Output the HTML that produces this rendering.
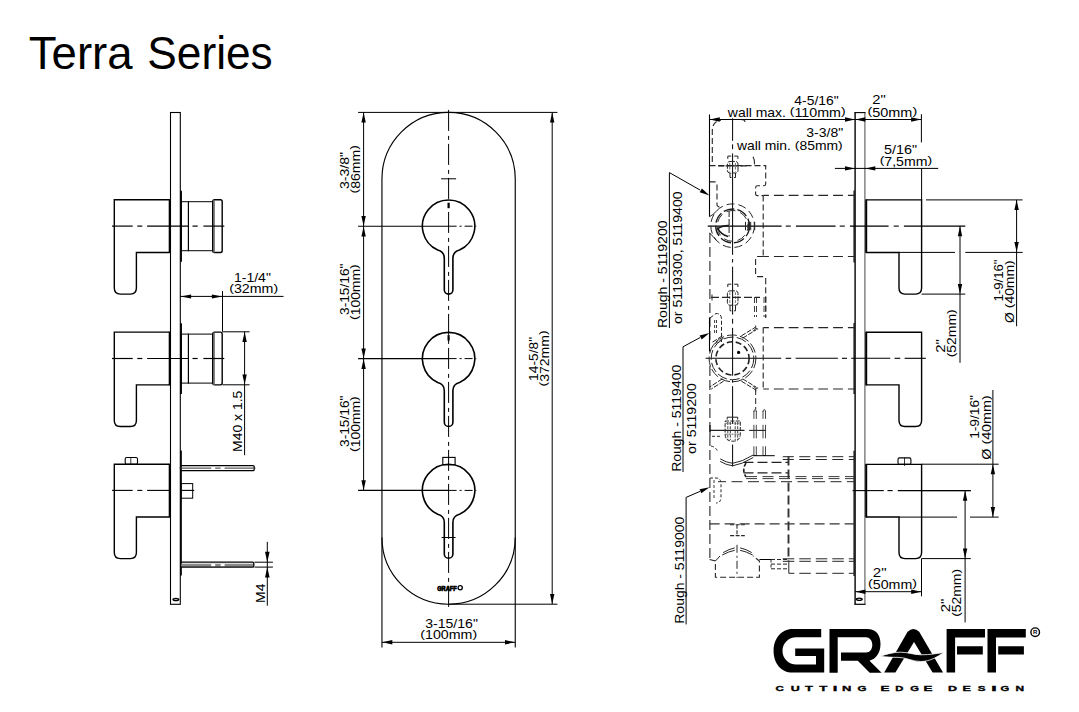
<!DOCTYPE html>
<html><head><meta charset="utf-8"><style>
html,body{margin:0;padding:0;background:#fff;width:1079px;height:712px;overflow:hidden}
svg{display:block}
text{font-family:"Liberation Sans",sans-serif;white-space:pre}
</style></head><body>
<svg width="1079" height="712" viewBox="0 0 1079 712">
<rect width="1079" height="712" fill="#fff"/>
<text x="28.82" y="68.7" font-size="46.5" font-weight="normal" fill="#000" textLength="103.78" lengthAdjust="spacingAndGlyphs">Terra</text>
<text x="147.29" y="68.7" font-size="46.5" font-weight="normal" fill="#000" textLength="125.41" lengthAdjust="spacingAndGlyphs">Series</text>
<rect x="170.5" y="112.5" width="9.8" height="491.8" rx="0" stroke="#000" stroke-width="1.1" fill="none"/>
<ellipse cx="175.9" cy="599.4" rx="2.9" ry="1.1" stroke="#000" stroke-width="1.3" fill="none"/>
<path d="M169.6,199.7 L114.3,199.7 L114.3,288.1 Q114.3,294.1 120.3,294.1 L130.4,294.1 Q136.4,294.1 136.4,288.1 L136.4,252.5 L169.6,252.5" stroke="#000" stroke-width="1.4" fill="none"/>
<line x1="169.7" y1="199.2" x2="169.7" y2="253" stroke="#000" stroke-width="2.0" stroke-linecap="butt"/>
<line x1="181.1" y1="190.8" x2="181.1" y2="261.7" stroke="#000" stroke-width="1.7" stroke-linecap="butt"/>
<rect x="181.2" y="201.7" width="7.2" height="49" rx="0" stroke="#000" stroke-width="1.0" fill="none"/>
<rect x="188.4" y="201.7" width="24.2" height="49" rx="0" stroke="#000" stroke-width="1.0" fill="none"/>
<rect x="212.8" y="199.7" width="9.4" height="52.8" rx="1.8" stroke="#000" stroke-width="1.4" fill="none"/>
<line x1="214" y1="200.1" x2="214" y2="252.5" stroke="#666" stroke-width="1.6" stroke-linecap="butt"/>
<line x1="112" y1="226.1" x2="132.7" y2="226.1" stroke="#000" stroke-width="1.2" stroke-linecap="butt"/>
<line x1="137.3" y1="226.1" x2="142.3" y2="226.1" stroke="#000" stroke-width="1.2" stroke-linecap="butt"/>
<line x1="147.1" y1="226.1" x2="189" y2="226.1" stroke="#000" stroke-width="1.2" stroke-linecap="butt"/>
<line x1="192.5" y1="226.1" x2="197.7" y2="226.1" stroke="#000" stroke-width="1.2" stroke-linecap="butt"/>
<line x1="203.4" y1="226.1" x2="224.3" y2="226.1" stroke="#000" stroke-width="1.2" stroke-linecap="butt"/>
<path d="M169.6,332.1 L114.3,332.1 L114.3,420.5 Q114.3,426.5 120.3,426.5 L130.4,426.5 Q136.4,426.5 136.4,420.5 L136.4,384.9 L169.6,384.9" stroke="#000" stroke-width="1.4" fill="none"/>
<line x1="169.7" y1="331.6" x2="169.7" y2="385.4" stroke="#000" stroke-width="2.0" stroke-linecap="butt"/>
<line x1="181.1" y1="323.2" x2="181.1" y2="394.1" stroke="#000" stroke-width="1.7" stroke-linecap="butt"/>
<rect x="181.2" y="334.1" width="7.2" height="49" rx="0" stroke="#000" stroke-width="1.0" fill="none"/>
<rect x="188.4" y="334.1" width="24.2" height="49" rx="0" stroke="#000" stroke-width="1.0" fill="none"/>
<rect x="212.8" y="332.1" width="9.4" height="52.8" rx="1.8" stroke="#000" stroke-width="1.4" fill="none"/>
<line x1="214" y1="332.5" x2="214" y2="384.9" stroke="#666" stroke-width="1.6" stroke-linecap="butt"/>
<line x1="112" y1="358.5" x2="132.7" y2="358.5" stroke="#000" stroke-width="1.2" stroke-linecap="butt"/>
<line x1="137.3" y1="358.5" x2="142.3" y2="358.5" stroke="#000" stroke-width="1.2" stroke-linecap="butt"/>
<line x1="147.1" y1="358.5" x2="189" y2="358.5" stroke="#000" stroke-width="1.2" stroke-linecap="butt"/>
<line x1="192.5" y1="358.5" x2="197.7" y2="358.5" stroke="#000" stroke-width="1.2" stroke-linecap="butt"/>
<line x1="203.4" y1="358.5" x2="224.3" y2="358.5" stroke="#000" stroke-width="1.2" stroke-linecap="butt"/>
<path d="M169.6,464.2 L114.3,464.2 L114.3,552.6 Q114.3,558.6 120.3,558.6 L130.4,558.6 Q136.4,558.6 136.4,552.6 L136.4,517 L169.6,517" stroke="#000" stroke-width="1.4" fill="none"/>
<line x1="169.7" y1="463.7" x2="169.7" y2="517.5" stroke="#000" stroke-width="2.0" stroke-linecap="butt"/>
<rect x="125.2" y="457.5" width="12.3" height="6.7" rx="1.5" stroke="#000" stroke-width="1.1" fill="none"/>
<line x1="130.8" y1="457.5" x2="130.8" y2="464.2" stroke="#000" stroke-width="0.8" stroke-linecap="butt"/>
<line x1="112" y1="490.4" x2="132.7" y2="490.4" stroke="#000" stroke-width="1.1" stroke-linecap="butt"/>
<line x1="137.3" y1="490.4" x2="142.3" y2="490.4" stroke="#000" stroke-width="1.1" stroke-linecap="butt"/>
<line x1="147.1" y1="490.4" x2="169.5" y2="490.4" stroke="#000" stroke-width="1.1" stroke-linecap="butt"/>
<line x1="181" y1="490.4" x2="194.2" y2="490.4" stroke="#000" stroke-width="1.1" stroke-linecap="butt"/>
<line x1="181" y1="450.5" x2="181" y2="575.5" stroke="#000" stroke-width="1.7" stroke-linecap="butt"/>
<path d="M181.2,465.6 L253,465.6 Q254.2,465.6 254.2,466.8 L254.2,469.4 Q254.2,470.6 253,470.6 L181.2,470.6" stroke="#000" stroke-width="1.3" fill="none"/>
<line x1="179.6" y1="468.1" x2="211.2" y2="468.1" stroke="#333" stroke-width="1.0" stroke-linecap="butt"/>
<line x1="215.2" y1="468.1" x2="220.7" y2="468.1" stroke="#333" stroke-width="1.0" stroke-linecap="butt"/>
<line x1="224.6" y1="468.1" x2="255.5" y2="468.1" stroke="#333" stroke-width="1.0" stroke-linecap="butt"/>
<rect x="181.2" y="563.7" width="71.8" height="3.1" rx="0" stroke="#000" stroke-width="0" fill="#8a8a8a"/>
<rect x="211.2" y="563.9" width="4" height="2.7" rx="0" stroke="#000" stroke-width="0" fill="#fff"/>
<rect x="220.7" y="563.9" width="3.9" height="2.7" rx="0" stroke="#000" stroke-width="0" fill="#fff"/>
<path d="M181.2,562.1 L252.6,562.1 Q253.8,562.1 253.8,563.3 L253.8,566 Q253.8,567.2 252.6,567.2 L181.2,567.2" stroke="#000" stroke-width="1.3" fill="none"/>
<rect x="181" y="483.6" width="11.7" height="14.6" rx="0" stroke="#000" stroke-width="1.0" fill="none"/>
<line x1="180.3" y1="296.4" x2="283.5" y2="296.4" stroke="#000" stroke-width="1.0" stroke-linecap="butt"/>
<polygon points="180.6,296.4 191.1,294.4 191.1,298.4" fill="#000"/>
<polygon points="222.4,296.4 211.9,294.4 211.9,298.4" fill="#000"/>
<line x1="222.5" y1="291" x2="222.5" y2="331.7" stroke="#000" stroke-width="1.0" stroke-linecap="butt"/>
<text x="233.93" y="281.6" font-size="13.3" font-weight="normal" fill="#000" textLength="36.96" lengthAdjust="spacingAndGlyphs">1-1/4"</text>
<g transform="translate(229.22,293.2)"><text transform="translate(0,-1.63) scale(1.0688,0.8112)" font-size="13.3" font-weight="normal" fill="#000">(</text><text x="4.73" y="0" font-size="13.3" font-weight="normal" fill="#000" textLength="39.5" lengthAdjust="spacingAndGlyphs">32mm</text><text transform="translate(44.23,-1.63) scale(1.0688,0.8112)" font-size="13.3" font-weight="normal" fill="#000">)</text></g>
<line x1="222.5" y1="331.8" x2="249.6" y2="331.8" stroke="#000" stroke-width="1.0" stroke-linecap="butt"/>
<line x1="222.5" y1="384.8" x2="249.6" y2="384.8" stroke="#000" stroke-width="1.0" stroke-linecap="butt"/>
<line x1="244.6" y1="331.8" x2="244.6" y2="455.2" stroke="#000" stroke-width="1.0" stroke-linecap="butt"/>
<polygon points="244.6,332.1 242.4,342.1 246.8,342.1" fill="#000"/>
<polygon points="244.6,384.5 242.4,374.5 246.8,374.5" fill="#000"/>
<g transform="translate(241.8,451.94) rotate(-90)"><text x="0" y="0" font-size="13.3" font-weight="normal" fill="#000" textLength="61.23" lengthAdjust="spacingAndGlyphs">M40 x 1.5</text></g>
<line x1="254.5" y1="562.2" x2="272.9" y2="562.2" stroke="#000" stroke-width="1.0" stroke-linecap="butt"/>
<line x1="254.5" y1="567.1" x2="272.9" y2="567.1" stroke="#000" stroke-width="1.0" stroke-linecap="butt"/>
<line x1="267.3" y1="541.8" x2="267.3" y2="605.7" stroke="#000" stroke-width="1.0" stroke-linecap="butt"/>
<polygon points="267.3,562.2 265,551.8 269.6,551.8" fill="#000"/>
<polygon points="267.3,567.1 265,577.5 269.6,577.5" fill="#000"/>
<g transform="translate(265,602.94) rotate(-90)"><text x="0" y="0" font-size="13.3" font-weight="normal" fill="#000" textLength="19.35" lengthAdjust="spacingAndGlyphs">M4</text></g>
<path d="M381.95,179.05 A66.65,66.65 0 0 1 515.25,179.05 L515.25,537.55 A66.65,66.65 0 0 1 381.95,537.55 Z" stroke="#000" stroke-width="1.15" fill="none"/>
<line x1="448.6" y1="109.9" x2="448.6" y2="609" stroke="#000" stroke-width="1.0" stroke-dasharray="21,5,4,4" stroke-linecap="butt"/>
<line x1="441.1" y1="178.8" x2="456.1" y2="178.8" stroke="#000" stroke-width="1.0" stroke-linecap="butt"/>
<path d="M444.3,258.2 C444.3,253.2 441.6,251.02 437.7,250.02 A26.2,26.2 0 1 1 459.5,250.02 C455.6,251.02 452.9,253.2 452.9,258.2 L452.9,289.8 A4.3,4.3 0 0 1 444.3,289.8 Z" stroke="#000" stroke-width="1.6" fill="none"/>
<line x1="358.1" y1="226.2" x2="448.6" y2="226.2" stroke="#000" stroke-width="1.1" stroke-linecap="butt"/>
<line x1="448.6" y1="226.2" x2="476.3" y2="226.2" stroke="#000" stroke-width="1.0" stroke-dasharray="8,3,2,3" stroke-linecap="butt"/>
<line x1="448.6" y1="202.7" x2="448.6" y2="208.2" stroke="#000" stroke-width="2.2" stroke-linecap="butt"/>
<path d="M444.3,390.6 C444.3,385.6 441.6,383.42 437.7,382.42 A26.2,26.2 0 1 1 459.5,382.42 C455.6,383.42 452.9,385.6 452.9,390.6 L452.9,422.2 A4.3,4.3 0 0 1 444.3,422.2 Z" stroke="#000" stroke-width="1.6" fill="none"/>
<line x1="358.1" y1="358.6" x2="448.6" y2="358.6" stroke="#000" stroke-width="1.1" stroke-linecap="butt"/>
<line x1="448.6" y1="358.6" x2="476.3" y2="358.6" stroke="#000" stroke-width="1.0" stroke-dasharray="8,3,2,3" stroke-linecap="butt"/>
<line x1="448.6" y1="335.1" x2="448.6" y2="340.6" stroke="#000" stroke-width="2.2" stroke-linecap="butt"/>
<path d="M444.3,522.4 C444.3,517.4 441.6,515.22 437.7,514.22 A26.2,26.2 0 1 1 459.5,514.22 C455.6,515.22 452.9,517.4 452.9,522.4 L452.9,554 A4.3,4.3 0 0 1 444.3,554 Z" stroke="#000" stroke-width="1.6" fill="none"/>
<line x1="358.1" y1="490.4" x2="448.6" y2="490.4" stroke="#000" stroke-width="1.1" stroke-linecap="butt"/>
<line x1="448.6" y1="490.4" x2="476.3" y2="490.4" stroke="#000" stroke-width="1.0" stroke-dasharray="8,3,2,3" stroke-linecap="butt"/>
<rect x="442.8" y="457.4" width="12.3" height="7.4" rx="0" stroke="#000" stroke-width="1.1" fill="none"/>
<line x1="441.6" y1="537.5" x2="455.6" y2="537.5" stroke="#000" stroke-width="1.0" stroke-linecap="butt"/>
<line x1="363.6" y1="112.4" x2="363.6" y2="490.4" stroke="#000" stroke-width="1.0" stroke-linecap="butt"/>
<line x1="358.1" y1="112.4" x2="557.4" y2="112.4" stroke="#000" stroke-width="1.0" stroke-linecap="butt"/>
<polygon points="363.6,112.6 361.4,122.6 365.8,122.6" fill="#000"/>
<polygon points="363.6,226 361.4,216 365.8,216" fill="#000"/>
<polygon points="363.6,226.5 361.4,236.5 365.8,236.5" fill="#000"/>
<polygon points="363.6,358.4 361.4,348.4 365.8,348.4" fill="#000"/>
<polygon points="363.6,358.9 361.4,368.9 365.8,368.9" fill="#000"/>
<polygon points="363.6,490.2 361.4,480.2 365.8,480.2" fill="#000"/>
<line x1="552.2" y1="112.4" x2="552.2" y2="604.2" stroke="#000" stroke-width="1.0" stroke-linecap="butt"/>
<line x1="448.6" y1="604.2" x2="557.4" y2="604.2" stroke="#000" stroke-width="1.0" stroke-linecap="butt"/>
<polygon points="552.2,112.6 550,122.6 554.4,122.6" fill="#000"/>
<polygon points="552.2,604 550,594 554.4,594" fill="#000"/>
<line x1="381.95" y1="537.5" x2="381.95" y2="647.5" stroke="#000" stroke-width="1.1" stroke-linecap="butt"/>
<line x1="515.25" y1="537.5" x2="515.25" y2="647.5" stroke="#000" stroke-width="1.1" stroke-linecap="butt"/>
<line x1="382" y1="642.3" x2="515.3" y2="642.3" stroke="#000" stroke-width="1.0" stroke-linecap="butt"/>
<polygon points="382.3,642.3 392.3,640.1 392.3,644.5" fill="#000"/>
<polygon points="515,642.3 505,640.1 505,644.5" fill="#000"/>
<text x="425.16" y="627.9" font-size="13.3" font-weight="normal" fill="#000" textLength="52.73" lengthAdjust="spacingAndGlyphs">3-15/16"</text>
<g transform="translate(420.32,639.4)"><text transform="translate(0,-1.63) scale(1.0687,0.8112)" font-size="13.3" font-weight="normal" fill="#000">(</text><text x="4.73" y="0" font-size="13.3" font-weight="normal" fill="#000" textLength="47.4" lengthAdjust="spacingAndGlyphs">100mm</text><text transform="translate(52.13,-1.63) scale(1.0687,0.8112)" font-size="13.3" font-weight="normal" fill="#000">)</text></g>
<g transform="translate(349,188.93) rotate(-90)"><text x="0" y="0" font-size="13.3" font-weight="normal" fill="#000" textLength="36.93" lengthAdjust="spacingAndGlyphs">3-3/8"</text></g>
<g transform="translate(359.6,193.47) rotate(-90)"><text transform="translate(0,-1.63) scale(1.0575,0.8112)" font-size="13.3" font-weight="normal" fill="#000">(</text><text x="4.68" y="0" font-size="13.3" font-weight="normal" fill="#000" textLength="39.08" lengthAdjust="spacingAndGlyphs">86mm</text><text transform="translate(43.76,-1.63) scale(1.0575,0.8112)" font-size="13.3" font-weight="normal" fill="#000">)</text></g>
<g transform="translate(349.3,314.92) rotate(-90)"><text x="0" y="0" font-size="13.3" font-weight="normal" fill="#000" textLength="51.3" lengthAdjust="spacingAndGlyphs">3-15/16"</text></g>
<g transform="translate(359.6,319.96) rotate(-90)"><text transform="translate(0,-1.63) scale(1.0454,0.8112)" font-size="13.3" font-weight="normal" fill="#000">(</text><text x="4.63" y="0" font-size="13.3" font-weight="normal" fill="#000" textLength="46.36" lengthAdjust="spacingAndGlyphs">100mm</text><text transform="translate(50.99,-1.63) scale(1.0454,0.8112)" font-size="13.3" font-weight="normal" fill="#000">)</text></g>
<g transform="translate(349.3,446.92) rotate(-90)"><text x="0" y="0" font-size="13.3" font-weight="normal" fill="#000" textLength="51.3" lengthAdjust="spacingAndGlyphs">3-15/16"</text></g>
<g transform="translate(359.6,451.96) rotate(-90)"><text transform="translate(0,-1.63) scale(1.0454,0.8112)" font-size="13.3" font-weight="normal" fill="#000">(</text><text x="4.63" y="0" font-size="13.3" font-weight="normal" fill="#000" textLength="46.36" lengthAdjust="spacingAndGlyphs">100mm</text><text transform="translate(50.99,-1.63) scale(1.0454,0.8112)" font-size="13.3" font-weight="normal" fill="#000">)</text></g>
<g transform="translate(538.3,380.95) rotate(-90)"><text x="0" y="0" font-size="13.3" font-weight="normal" fill="#000" textLength="44.14" lengthAdjust="spacingAndGlyphs">14-5/8"</text></g>
<g transform="translate(548.6,386.47) rotate(-90)"><text transform="translate(0,-1.63) scale(1.0551,0.8112)" font-size="13.3" font-weight="normal" fill="#000">(</text><text x="4.67" y="0" font-size="13.3" font-weight="normal" fill="#000" textLength="46.79" lengthAdjust="spacingAndGlyphs">372mm</text><text transform="translate(51.47,-1.63) scale(1.0551,0.8112)" font-size="13.3" font-weight="normal" fill="#000">)</text></g>
<g stroke="#000" stroke-width="0.7">
<text x="437.17" y="591.4" font-size="6.8" font-weight="bold" fill="#000" textLength="19.54" lengthAdjust="spacingAndGlyphs">GRAFF</text>
</g>
<circle cx="460.2" cy="587.8" r="2.1" stroke="#000" stroke-width="1.3" fill="none"/>
<line x1="855.1" y1="112.6" x2="855.1" y2="604.3" stroke="#000" stroke-width="1.4" stroke-linecap="butt"/>
<line x1="864.9" y1="112.6" x2="864.9" y2="604.3" stroke="#666" stroke-width="1.2" stroke-linecap="butt"/>
<line x1="854.4" y1="112.6" x2="865.6" y2="112.6" stroke="#000" stroke-width="1.1" stroke-linecap="butt"/>
<line x1="854.4" y1="604.3" x2="865.6" y2="604.3" stroke="#000" stroke-width="1.2" stroke-linecap="butt"/>
<ellipse cx="859.3" cy="599.3" rx="2.9" ry="1.1" stroke="#000" stroke-width="1.3" fill="none"/>
<line x1="854.2" y1="190.6" x2="854.2" y2="262.5" stroke="#222" stroke-width="1.6" stroke-linecap="butt"/>
<line x1="854.2" y1="323" x2="854.2" y2="394" stroke="#222" stroke-width="1.6" stroke-linecap="butt"/>
<line x1="854.2" y1="450.7" x2="854.2" y2="576" stroke="#222" stroke-width="1.6" stroke-linecap="butt"/>
<path d="M866,199.9 L921.6,199.9 L921.6,288.1 Q921.6,294.1 915.6,294.1 L905,294.1 Q899,294.1 899,288.1 L899,252.5 L866,252.5" stroke="#000" stroke-width="1.4" fill="none"/>
<line x1="866.2" y1="199.4" x2="866.2" y2="253" stroke="#000" stroke-width="2.0" stroke-linecap="butt"/>
<path d="M866,332.3 L921.6,332.3 L921.6,420.5 Q921.6,426.5 915.6,426.5 L905,426.5 Q899,426.5 899,420.5 L899,384.9 L866,384.9" stroke="#000" stroke-width="1.4" fill="none"/>
<line x1="866.2" y1="331.8" x2="866.2" y2="385.4" stroke="#000" stroke-width="2.0" stroke-linecap="butt"/>
<path d="M866,464.4 L921.6,464.4 L921.6,552.6 Q921.6,558.6 915.6,558.6 L905,558.6 Q899,558.6 899,552.6 L899,517 L866,517" stroke="#000" stroke-width="1.4" fill="none"/>
<line x1="866.2" y1="463.9" x2="866.2" y2="517.5" stroke="#000" stroke-width="2.0" stroke-linecap="butt"/>
<rect x="898" y="457.9" width="12.9" height="6.5" rx="1.5" stroke="#000" stroke-width="1.1" fill="none"/>
<line x1="904.5" y1="457.9" x2="904.5" y2="465.9" stroke="#000" stroke-width="0.8" stroke-linecap="butt"/>
<line x1="707.7" y1="226.1" x2="781.6" y2="226.1" stroke="#000" stroke-width="1.1" stroke-linecap="butt"/>
<line x1="785.7" y1="226.1" x2="790.8" y2="226.1" stroke="#000" stroke-width="1.1" stroke-linecap="butt"/>
<line x1="795.9" y1="226.1" x2="835.6" y2="226.1" stroke="#000" stroke-width="1.1" stroke-linecap="butt"/>
<line x1="839.7" y1="226.1" x2="844.8" y2="226.1" stroke="#000" stroke-width="1.1" stroke-linecap="butt"/>
<line x1="849.9" y1="226.1" x2="888.6" y2="226.1" stroke="#000" stroke-width="1.1" stroke-linecap="butt"/>
<line x1="893.7" y1="226.1" x2="898.8" y2="226.1" stroke="#000" stroke-width="1.1" stroke-linecap="butt"/>
<line x1="903.9" y1="226.1" x2="965.3" y2="226.1" stroke="#000" stroke-width="1.1" stroke-linecap="butt"/>
<line x1="705.6" y1="358.3" x2="781.2" y2="358.3" stroke="#000" stroke-width="1.1" stroke-linecap="butt"/>
<line x1="785.6" y1="358.3" x2="791.2" y2="358.3" stroke="#000" stroke-width="1.1" stroke-linecap="butt"/>
<line x1="795.6" y1="358.3" x2="837.9" y2="358.3" stroke="#000" stroke-width="1.1" stroke-linecap="butt"/>
<line x1="842" y1="358.3" x2="847" y2="358.3" stroke="#000" stroke-width="1.1" stroke-linecap="butt"/>
<line x1="851.2" y1="358.3" x2="890.2" y2="358.3" stroke="#000" stroke-width="1.1" stroke-linecap="butt"/>
<line x1="894.6" y1="358.3" x2="900.2" y2="358.3" stroke="#000" stroke-width="1.1" stroke-linecap="butt"/>
<line x1="904.6" y1="358.3" x2="925.8" y2="358.3" stroke="#000" stroke-width="1.1" stroke-linecap="butt"/>
<line x1="852.6" y1="490.6" x2="883.8" y2="490.6" stroke="#000" stroke-width="1.1" stroke-linecap="butt"/>
<line x1="887.5" y1="490.6" x2="892.7" y2="490.6" stroke="#000" stroke-width="1.1" stroke-linecap="butt"/>
<line x1="897.8" y1="490.6" x2="970.8" y2="490.6" stroke="#000" stroke-width="1.1" stroke-linecap="butt"/>
<line x1="732.6" y1="118.3" x2="732.6" y2="140.8" stroke="#000" stroke-width="1.0" stroke-linecap="butt"/>
<line x1="732.6" y1="144.3" x2="732.6" y2="149.2" stroke="#000" stroke-width="1.0" stroke-linecap="butt"/>
<line x1="732.6" y1="153.4" x2="732.6" y2="254.8" stroke="#000" stroke-width="1.0" stroke-linecap="butt"/>
<line x1="732.6" y1="259" x2="732.6" y2="262.5" stroke="#000" stroke-width="1.0" stroke-linecap="butt"/>
<line x1="732.6" y1="266.7" x2="732.6" y2="314.6" stroke="#000" stroke-width="1.0" stroke-linecap="butt"/>
<line x1="732.6" y1="318.8" x2="732.6" y2="323.7" stroke="#000" stroke-width="1.0" stroke-linecap="butt"/>
<line x1="732.6" y1="327.9" x2="732.6" y2="375.7" stroke="#000" stroke-width="1.0" stroke-linecap="butt"/>
<line x1="732.6" y1="379.9" x2="732.6" y2="382.7" stroke="#000" stroke-width="1.0" stroke-linecap="butt"/>
<line x1="732.6" y1="386.2" x2="732.6" y2="424" stroke="#000" stroke-width="1.0" stroke-linecap="butt"/>
<line x1="732.6" y1="444.6" x2="732.6" y2="466.4" stroke="#000" stroke-width="1.0" stroke-linecap="butt"/>
<path d="M712.3,162 L712.3,131 Q712.3,121 721,120.2" stroke="#262626" stroke-width="1.1" fill="none" stroke-dasharray="6,3"/>
<path d="M741,119.5 Q745,119.5 745,122" stroke="#262626" stroke-width="1.1" fill="none"/>
<path d="M709.5,165.6 L765.7,165.6 L765.7,184 Q765.7,185.8 763.8,185.8 L757.5,185.8 Q755.6,185.8 755.6,187.7 L755.6,193.9 Q755.6,195.6 757.5,195.6 L763.2,195.6" stroke="#262626" stroke-width="1.1" fill="none" stroke-dasharray="6,3"/>
<path d="M753,156.8 Q755,160 754.5,164.4" stroke="#262626" stroke-width="1.1" fill="none"/>
<line x1="763.2" y1="195.4" x2="854" y2="195.4" stroke="#262626" stroke-width="1.1" stroke-dasharray="9.8,5" stroke-dashoffset="4.1" stroke-linecap="butt"/>
<line x1="763.2" y1="195.4" x2="763.2" y2="256.5" stroke="#262626" stroke-width="1.1" stroke-dasharray="6,3" stroke-linecap="butt"/>
<line x1="763.2" y1="256.5" x2="854" y2="256.5" stroke="#262626" stroke-width="1.1" stroke-dasharray="9.8,5" stroke-dashoffset="4.1" stroke-linecap="butt"/>
<path d="M763.2,256.5 L757.5,256.5 Q755.6,256.5 755.6,258.4 L755.6,274.7 Q755.6,276.6 757.5,276.6 L763.8,276.6 Q765.7,276.6 765.7,278.5 L765.7,318" stroke="#262626" stroke-width="1.1" fill="none" stroke-dasharray="6,3"/>
<line x1="709.5" y1="114.4" x2="709.5" y2="216.7" stroke="#000" stroke-width="1.1" stroke-linecap="butt"/>
<path d="M709.5,216.7 Q713,215 716.5,211" stroke="#262626" stroke-width="1.0" fill="none"/>
<path d="M709.5,233 Q713,236 716.5,240.7" stroke="#262626" stroke-width="1.0" fill="none"/>
<line x1="709.9" y1="233" x2="709.9" y2="340" stroke="#262626" stroke-width="1.1" stroke-dasharray="10,4" stroke-linecap="butt"/>
<line x1="709.5" y1="318" x2="709.5" y2="351.6" stroke="#000" stroke-width="1.1" stroke-linecap="butt"/>
<line x1="709.9" y1="366" x2="709.9" y2="560" stroke="#262626" stroke-width="1.1" stroke-dasharray="10,4" stroke-linecap="butt"/>
<path d="M709.6,181.9 L714.5,181.9 Q717,181.9 717,184.4 L717,205.3 Q718,207.5 722,207.2" stroke="#262626" stroke-width="1.1" fill="none" stroke-dasharray="6,3"/>
<circle cx="732.6" cy="225.7" r="21.8" stroke="#262626" stroke-width="1.0" fill="none" stroke-dasharray="8,4"/>
<circle cx="732.6" cy="225.9" r="16.9" stroke="#1a1a1a" stroke-width="1.3" fill="none" stroke-dasharray="11,3"/>
<circle cx="732.6" cy="225.9" r="15.4" stroke="#333" stroke-width="1.0" fill="none" stroke-dasharray="9,5" stroke-dashoffset="4"/>
<line x1="729.1" y1="211" x2="729.1" y2="236.5" stroke="#222" stroke-width="1.0" stroke-dasharray="6,2" stroke-linecap="butt"/>
<path d="M729.1,225.6 Q722,225.4 717.8,228.6 Q721,234.5 728,236.4" stroke="#1a1a1a" stroke-width="1.6" fill="none"/>
<line x1="745.5" y1="221.9" x2="745.5" y2="230.2" stroke="#222" stroke-width="1.0" stroke-linecap="butt"/>
<line x1="748.3" y1="221.9" x2="748.3" y2="230.2" stroke="#222" stroke-width="1.0" stroke-linecap="butt"/>
<line x1="749.3" y1="221.9" x2="749.3" y2="230.2" stroke="#222" stroke-width="1.0" stroke-linecap="butt"/>
<line x1="750.7" y1="221.9" x2="750.7" y2="230.2" stroke="#222" stroke-width="1.0" stroke-linecap="butt"/>
<line x1="754.7" y1="221.9" x2="754.7" y2="230.2" stroke="#222" stroke-width="1.0" stroke-linecap="butt"/>
<path d="M727.8,158.9 L727.8,156.1 L731.3,156.1 M734.2,156.1 L737.9,156.1 L737.9,158.9" stroke="#222" stroke-width="1.0" fill="none"/>
<rect x="727.4" y="161.45" width="10.6" height="11.56" rx="2.5" stroke="#222" stroke-width="1.0" fill="none" stroke-dasharray="5,1.2"/>
<line x1="729.8" y1="162.95" x2="729.8" y2="171.51" stroke="#444" stroke-width="0.8" stroke-dasharray="2.5,1.5" stroke-linecap="butt"/>
<line x1="735.4" y1="162.95" x2="735.4" y2="171.51" stroke="#444" stroke-width="0.8" stroke-dasharray="2.5,1.5" stroke-linecap="butt"/>
<path d="M730,173.01 L730,177.5 L731.5,177.5 M734,177.5 L735.5,177.5 L735.5,173.01" stroke="#222" stroke-width="1.0" fill="none"/>
<path d="M727.8,287 L727.8,284.2 L731.3,284.2 M734.2,284.2 L737.9,284.2 L737.9,287" stroke="#222" stroke-width="1.0" fill="none"/>
<rect x="727.4" y="290.85" width="10.6" height="14.36" rx="2.5" stroke="#222" stroke-width="1.0" fill="none" stroke-dasharray="5,1.2"/>
<line x1="729.8" y1="292.35" x2="729.8" y2="303.71" stroke="#444" stroke-width="0.8" stroke-dasharray="2.5,1.5" stroke-linecap="butt"/>
<line x1="735.4" y1="292.35" x2="735.4" y2="303.71" stroke="#444" stroke-width="0.8" stroke-dasharray="2.5,1.5" stroke-linecap="butt"/>
<path d="M730,305.21 L730,310.8 L731.5,310.8 M734,310.8 L735.5,310.8 L735.5,305.21" stroke="#222" stroke-width="1.0" fill="none"/>
<line x1="718" y1="165.9" x2="747" y2="165.9" stroke="#222" stroke-width="1.2" stroke-dasharray="6,1.5" stroke-linecap="butt"/>
<line x1="711" y1="297.4" x2="760" y2="297.4" stroke="#262626" stroke-width="1.1" stroke-dasharray="8,3" stroke-linecap="butt"/>
<line x1="712" y1="294.5" x2="712" y2="300.5" stroke="#262626" stroke-width="1.0" stroke-linecap="butt"/>
<line x1="754.5" y1="297" x2="754.5" y2="317" stroke="#262626" stroke-width="0.9" stroke-dasharray="6,3" stroke-linecap="butt"/>
<line x1="756.5" y1="297" x2="756.5" y2="317" stroke="#262626" stroke-width="0.9" stroke-dasharray="6,3" stroke-linecap="butt"/>
<line x1="764" y1="297" x2="764" y2="317" stroke="#262626" stroke-width="0.9" stroke-dasharray="6,3" stroke-linecap="butt"/>
<line x1="765.8" y1="297" x2="765.8" y2="317" stroke="#262626" stroke-width="0.9" stroke-dasharray="6,3" stroke-linecap="butt"/>
<path d="M710,318 L716,313.5 Q721.5,313.5 721.5,319 L721.5,342" stroke="#262626" stroke-width="1.0" fill="none" stroke-dasharray="4,2"/>
<line x1="714.6" y1="320" x2="714.6" y2="335" stroke="#262626" stroke-width="0.9" stroke-dasharray="3,2" stroke-linecap="butt"/>
<line x1="716.5" y1="320" x2="716.5" y2="335" stroke="#262626" stroke-width="0.9" stroke-dasharray="3,2" stroke-linecap="butt"/>
<line x1="763.2" y1="327.6" x2="854" y2="327.6" stroke="#262626" stroke-width="1.1" stroke-dasharray="9.8,5" stroke-dashoffset="4.1" stroke-linecap="butt"/>
<line x1="763.2" y1="327.6" x2="763.2" y2="389" stroke="#262626" stroke-width="1.1" stroke-dasharray="6,3" stroke-linecap="butt"/>
<line x1="763.2" y1="389" x2="854" y2="389" stroke="#262626" stroke-width="1.1" stroke-dasharray="9.8,5" stroke-dashoffset="4.1" stroke-linecap="butt"/>
<circle cx="732.5" cy="358.4" r="16.6" stroke="#222" stroke-width="1.6" fill="none" stroke-dasharray="6,3"/>
<circle cx="732.5" cy="358.4" r="21.3" stroke="#262626" stroke-width="1.0" fill="none" stroke-dasharray="10,3"/>
<circle cx="732.5" cy="358.4" r="23.4" stroke="#262626" stroke-width="1.0" fill="none" stroke-dasharray="10,3"/>
<circle cx="738.6" cy="352.4" r="1.6" fill="#000"/>
<line x1="742.68" y1="338.11" x2="756.38" y2="329.71" stroke="#222" stroke-width="1.0" stroke-dasharray="5,1.5" stroke-linecap="butt"/>
<line x1="741.32" y1="335.89" x2="755.02" y2="327.49" stroke="#222" stroke-width="1.0" stroke-dasharray="5,1.5" stroke-linecap="butt"/>
<line x1="741.32" y1="381.11" x2="755.02" y2="389.51" stroke="#222" stroke-width="1.0" stroke-dasharray="5,1.5" stroke-linecap="butt"/>
<line x1="742.68" y1="378.89" x2="756.38" y2="387.29" stroke="#222" stroke-width="1.0" stroke-dasharray="5,1.5" stroke-linecap="butt"/>
<line x1="722.3" y1="378.91" x2="709.8" y2="386.91" stroke="#222" stroke-width="1.0" stroke-dasharray="5,1.5" stroke-linecap="butt"/>
<line x1="723.7" y1="381.09" x2="711.2" y2="389.09" stroke="#222" stroke-width="1.0" stroke-dasharray="5,1.5" stroke-linecap="butt"/>
<line x1="722.3" y1="335.9" x2="711.3" y2="342.9" stroke="#222" stroke-width="1.0" stroke-dasharray="5,1.5" stroke-linecap="butt"/>
<line x1="723.7" y1="338.1" x2="712.7" y2="345.1" stroke="#222" stroke-width="1.0" stroke-dasharray="5,1.5" stroke-linecap="butt"/>
<path d="M753.2,331.1 L755.7,328.6 L758.2,329.1 M755.7,328.6 L755.7,325.6" stroke="#222" stroke-width="1.0" fill="none"/>
<path d="M753.2,385.9 L755.7,388.4 L758.2,387.9 M755.7,388.4 L755.7,391.4" stroke="#222" stroke-width="1.0" fill="none"/>
<path d="M727.2,419.5 L727.2,417.2 L737.7,417.2 L737.7,419.5" stroke="#222" stroke-width="1.0" fill="none"/>
<path d="M725.1,421 L740.3,421 L740.3,434 Q740.3,441.2 732.7,441.2 Q725.1,441.2 725.1,434 Z" stroke="#222" stroke-width="1.0" fill="none" stroke-dasharray="4,1.3"/>
<line x1="727.8" y1="422" x2="727.8" y2="440" stroke="#333" stroke-width="0.9" stroke-dasharray="3,1.2" stroke-linecap="butt"/>
<line x1="730.3" y1="422" x2="730.3" y2="440" stroke="#333" stroke-width="0.9" stroke-dasharray="3,1.2" stroke-linecap="butt"/>
<line x1="735.2" y1="422" x2="735.2" y2="440" stroke="#333" stroke-width="0.9" stroke-dasharray="3,1.2" stroke-linecap="butt"/>
<line x1="737.7" y1="422" x2="737.7" y2="440" stroke="#333" stroke-width="0.9" stroke-dasharray="3,1.2" stroke-linecap="butt"/>
<line x1="725.5" y1="423.2" x2="740" y2="423.2" stroke="#444" stroke-width="0.8" stroke-dasharray="2,1" stroke-linecap="butt"/>
<line x1="725.5" y1="434.2" x2="740" y2="434.2" stroke="#444" stroke-width="0.8" stroke-dasharray="2,1" stroke-linecap="butt"/>
<line x1="710" y1="430.4" x2="744.5" y2="430.4" stroke="#222" stroke-width="1.1" stroke-linecap="butt"/>
<line x1="749.1" y1="430.4" x2="766" y2="430.4" stroke="#222" stroke-width="1.1" stroke-linecap="butt"/>
<line x1="710" y1="425" x2="710" y2="436" stroke="#000" stroke-width="1.0" stroke-linecap="butt"/>
<line x1="712" y1="436.3" x2="720" y2="436.3" stroke="#262626" stroke-width="1.0" stroke-dasharray="3,2" stroke-linecap="butt"/>
<line x1="753.9" y1="411" x2="753.9" y2="418.9" stroke="#333" stroke-width="0.9" stroke-linecap="butt"/>
<line x1="753.9" y1="424.8" x2="753.9" y2="438.3" stroke="#333" stroke-width="0.9" stroke-linecap="butt"/>
<line x1="753.9" y1="446.3" x2="753.9" y2="455.5" stroke="#333" stroke-width="0.9" stroke-linecap="butt"/>
<line x1="756.3" y1="411" x2="756.3" y2="418.9" stroke="#333" stroke-width="0.9" stroke-linecap="butt"/>
<line x1="756.3" y1="424.8" x2="756.3" y2="438.3" stroke="#333" stroke-width="0.9" stroke-linecap="butt"/>
<line x1="756.3" y1="446.3" x2="756.3" y2="455.5" stroke="#333" stroke-width="0.9" stroke-linecap="butt"/>
<line x1="763" y1="411" x2="763" y2="418.9" stroke="#333" stroke-width="0.9" stroke-linecap="butt"/>
<line x1="763" y1="424.8" x2="763" y2="438.3" stroke="#333" stroke-width="0.9" stroke-linecap="butt"/>
<line x1="763" y1="446.3" x2="763" y2="455.5" stroke="#333" stroke-width="0.9" stroke-linecap="butt"/>
<line x1="765.5" y1="411" x2="765.5" y2="418.9" stroke="#333" stroke-width="0.9" stroke-linecap="butt"/>
<line x1="765.5" y1="424.8" x2="765.5" y2="438.3" stroke="#333" stroke-width="0.9" stroke-linecap="butt"/>
<line x1="765.5" y1="446.3" x2="765.5" y2="455.5" stroke="#333" stroke-width="0.9" stroke-linecap="butt"/>
<path d="M753.9,412 Q753.9,409.5 755.0999999999999,409.5 Q756.3,409.5 756.3,412" stroke="#333" stroke-width="0.9" fill="none"/>
<line x1="753.9" y1="455.5" x2="756.3" y2="455.5" stroke="#333" stroke-width="0.9" stroke-linecap="butt"/>
<path d="M763.0,412 Q763.0,409.5 764.25,409.5 Q765.5,409.5 765.5,412" stroke="#333" stroke-width="0.9" fill="none"/>
<line x1="763" y1="455.5" x2="765.5" y2="455.5" stroke="#333" stroke-width="0.9" stroke-linecap="butt"/>
<line x1="755.7" y1="389" x2="755.7" y2="409.5" stroke="#262626" stroke-width="1.0" stroke-dasharray="6,3" stroke-linecap="butt"/>
<path d="M720.2,458.9 Q726,462.5 732.6,463.3 Q742,462 753.2,455" stroke="#262626" stroke-width="1.0" fill="none"/>
<path d="M720.2,461.4 Q726,465 732.6,465.8 Q742,464.5 753.2,457.5" stroke="#262626" stroke-width="1.0" fill="none"/>
<line x1="753" y1="455.7" x2="774.7" y2="455.7" stroke="#000" stroke-width="1.0" stroke-linecap="butt"/>
<line x1="782.8" y1="456.7" x2="854" y2="456.7" stroke="#262626" stroke-width="1.0" stroke-dasharray="11,5.5" stroke-linecap="butt"/>
<line x1="782.8" y1="459.5" x2="854" y2="459.5" stroke="#262626" stroke-width="1.0" stroke-dasharray="11,5.5" stroke-linecap="butt"/>
<line x1="743.5" y1="462.4" x2="789" y2="462.4" stroke="#222" stroke-width="1.2" stroke-dasharray="10,4" stroke-linecap="butt"/>
<line x1="743.5" y1="472.8" x2="789" y2="472.8" stroke="#222" stroke-width="1.2" stroke-dasharray="10,4" stroke-linecap="butt"/>
<path d="M746,463 Q741.5,470 746,477" stroke="#222" stroke-width="1.6" fill="none" stroke-dasharray="4,2"/>
<line x1="746" y1="476.6" x2="854" y2="476.6" stroke="#262626" stroke-width="0.9" stroke-dasharray="11,5.5" stroke-linecap="butt"/>
<line x1="746" y1="478.6" x2="854" y2="478.6" stroke="#262626" stroke-width="0.9" stroke-dasharray="11,5.5" stroke-linecap="butt"/>
<line x1="718" y1="481.7" x2="854" y2="481.7" stroke="#262626" stroke-width="1.0" stroke-dasharray="11,5.5" stroke-dashoffset="3" stroke-linecap="butt"/>
<line x1="788.5" y1="456.4" x2="788.5" y2="561" stroke="#333" stroke-width="1.9" stroke-dasharray="9,4" stroke-linecap="butt"/>
<path d="M710,478 L716,478 Q721,478 721,484 L721,497 Q721,503 716,503" stroke="#262626" stroke-width="1.0" fill="none" stroke-dasharray="3,2"/>
<line x1="714" y1="480" x2="714" y2="500" stroke="#262626" stroke-width="0.9" stroke-dasharray="3,2" stroke-linecap="butt"/>
<path d="M711,446 Q716,447 718,452" stroke="#262626" stroke-width="1.0" fill="none" stroke-dasharray="3,2"/>
<line x1="709.6" y1="523.8" x2="854" y2="523.8" stroke="#333" stroke-width="1.2" stroke-dasharray="10,5" stroke-linecap="butt"/>
<path d="M730.1,524.8 L744.8,524.8 M737,524.8 L737,535.6 M730.1,535.6 L744.8,535.6" stroke="#262626" stroke-width="1.1" fill="none" stroke-dasharray="4,1.5"/>
<path d="M709.6,559.5 L715.4,561 L715.4,577.3 L759.4,577.3 L759.4,561 L753,556" stroke="#262626" stroke-width="1.1" fill="none" stroke-dasharray="6,3"/>
<path d="M715.4,561 L720,556" stroke="#262626" stroke-width="1.0" fill="none"/>
<path d="M723.2,552.6 Q729,549 734.7,547.9 M740.1,547.9 Q746,549 751.7,552.6" stroke="#262626" stroke-width="1.0" fill="none"/>
<path d="M722.2,555 Q729,551.4 734.7,550.3 M740.1,550.3 Q746,551.4 752.7,555" stroke="#262626" stroke-width="1.0" fill="none"/>
<line x1="737" y1="544.8" x2="737" y2="578" stroke="#262626" stroke-width="1.0" stroke-dasharray="8,3,2,3" stroke-linecap="butt"/>
<line x1="759.4" y1="559.5" x2="771" y2="559.5" stroke="#000" stroke-width="1.0" stroke-linecap="butt"/>
<line x1="771" y1="559.5" x2="789" y2="559.5" stroke="#262626" stroke-width="1.0" stroke-dasharray="4,2" stroke-linecap="butt"/>
<line x1="771" y1="564.1" x2="789" y2="564.1" stroke="#262626" stroke-width="1.0" stroke-dasharray="4,2" stroke-linecap="butt"/>
<line x1="771" y1="568.8" x2="789" y2="568.8" stroke="#262626" stroke-width="1.0" stroke-dasharray="4,2" stroke-linecap="butt"/>
<line x1="771" y1="559.5" x2="771" y2="569" stroke="#262626" stroke-width="1.0" stroke-dasharray="3,2" stroke-linecap="butt"/>
<line x1="782.8" y1="558.8" x2="854" y2="558.8" stroke="#262626" stroke-width="1.0" stroke-dasharray="11.5,5" stroke-linecap="butt"/>
<line x1="782.8" y1="561.3" x2="854" y2="561.3" stroke="#262626" stroke-width="1.0" stroke-dasharray="11.5,5" stroke-linecap="butt"/>
<line x1="788.8" y1="573.3" x2="854" y2="573.3" stroke="#262626" stroke-width="1.0" stroke-dasharray="11.5,5" stroke-dashoffset="-10.5" stroke-linecap="butt"/>
<line x1="788.8" y1="561" x2="788.8" y2="573.3" stroke="#262626" stroke-width="1.0" stroke-linecap="butt"/>
<line x1="669.4" y1="172.6" x2="669.4" y2="328" stroke="#000" stroke-width="1.0" stroke-linecap="butt"/>
<line x1="669.4" y1="172.6" x2="700" y2="190" stroke="#000" stroke-width="1.0" stroke-linecap="butt"/>
<polygon points="709.5,195.4 699.72,192.37 701.89,188.54" fill="#000"/>
<line x1="683" y1="346.8" x2="683" y2="472" stroke="#000" stroke-width="1.0" stroke-linecap="butt"/>
<line x1="683" y1="346.8" x2="700" y2="337.6" stroke="#000" stroke-width="1.0" stroke-linecap="butt"/>
<polygon points="709.5,332.9 701.67,339.49 699.62,335.6" fill="#000"/>
<line x1="686.1" y1="497.4" x2="686.1" y2="624.4" stroke="#000" stroke-width="1.0" stroke-linecap="butt"/>
<line x1="686.1" y1="497.4" x2="700" y2="491.4" stroke="#000" stroke-width="1.0" stroke-linecap="butt"/>
<polygon points="709.6,487.3 701.28,493.27 699.54,489.23" fill="#000"/>
<g transform="translate(667,328.04) rotate(-90)"><text x="0" y="0" font-size="13.3" font-weight="normal" fill="#000" textLength="107.59" lengthAdjust="spacingAndGlyphs">Rough - 5119200</text></g>
<g transform="translate(682,324.09) rotate(-90)"><text x="0" y="0" font-size="13.3" font-weight="normal" fill="#000" textLength="132.83" lengthAdjust="spacingAndGlyphs">or 5119300, 5119400</text></g>
<g transform="translate(680.7,471.84) rotate(-90)"><text x="0" y="0" font-size="13.3" font-weight="normal" fill="#000" textLength="107.08" lengthAdjust="spacingAndGlyphs">Rough - 5119400</text></g>
<g transform="translate(695.9,453.89) rotate(-90)"><text x="0" y="0" font-size="13.3" font-weight="normal" fill="#000" textLength="70.73" lengthAdjust="spacingAndGlyphs">or 5119200</text></g>
<g transform="translate(683.8,623.74) rotate(-90)"><text x="0" y="0" font-size="13.3" font-weight="normal" fill="#000" textLength="106.98" lengthAdjust="spacingAndGlyphs">Rough - 5119000</text></g>
<line x1="709.5" y1="119.5" x2="921.4" y2="119.5" stroke="#000" stroke-width="1.0" stroke-linecap="butt"/>
<polygon points="709.8,119.5 719.8,117.3 719.8,121.7" fill="#000"/>
<polygon points="855,119.5 845,117.3 845,121.7" fill="#000"/>
<polygon points="855.4,119.5 865.4,117.3 865.4,121.7" fill="#000"/>
<polygon points="921.1,119.5 911.1,117.3 911.1,121.7" fill="#000"/>
<line x1="921.4" y1="114.2" x2="921.4" y2="142.4" stroke="#000" stroke-width="1.0" stroke-linecap="butt"/>
<line x1="921.6" y1="168.4" x2="921.6" y2="200" stroke="#000" stroke-width="1.0" stroke-linecap="butt"/>
<text x="794.38" y="104.5" font-size="13.3" font-weight="normal" fill="#000" textLength="44.31" lengthAdjust="spacingAndGlyphs">4-5/16"</text>
<g transform="translate(727.82,116.7)"><text x="0" y="0" font-size="13.3" font-weight="normal" fill="#000" textLength="61.97" lengthAdjust="spacingAndGlyphs">wall max. </text><text transform="translate(61.97,-1.63) scale(1.0482,0.8112)" font-size="13.3" font-weight="normal" fill="#000">(</text><text x="66.62" y="0" font-size="13.3" font-weight="normal" fill="#000" textLength="46.49" lengthAdjust="spacingAndGlyphs">110mm</text><text transform="translate(113.1,-1.63) scale(1.0482,0.8112)" font-size="13.3" font-weight="normal" fill="#000">)</text></g>
<text x="872.26" y="104.4" font-size="13.3" font-weight="normal" fill="#000" textLength="13.47" lengthAdjust="spacingAndGlyphs">2"</text>
<g transform="translate(867.51,116.5)"><text transform="translate(0,-1.63) scale(1.0847,0.8112)" font-size="13.3" font-weight="normal" fill="#000">(</text><text x="4.8" y="0" font-size="13.3" font-weight="normal" fill="#000" textLength="40.08" lengthAdjust="spacingAndGlyphs">50mm</text><text transform="translate(44.89,-1.63) scale(1.0847,0.8112)" font-size="13.3" font-weight="normal" fill="#000">)</text></g>
<text x="806.27" y="136.5" font-size="13.3" font-weight="normal" fill="#000" textLength="36.93" lengthAdjust="spacingAndGlyphs">3-3/8"</text>
<g transform="translate(736.92,150.4)"><text x="0" y="0" font-size="13.3" font-weight="normal" fill="#000" textLength="57.89" lengthAdjust="spacingAndGlyphs">wall min. </text><text transform="translate(57.89,-1.63) scale(1.0445,0.8112)" font-size="13.3" font-weight="normal" fill="#000">(</text><text x="62.52" y="0" font-size="13.3" font-weight="normal" fill="#000" textLength="38.6" lengthAdjust="spacingAndGlyphs">85mm</text><text transform="translate(101.12,-1.63) scale(1.0445,0.8112)" font-size="13.3" font-weight="normal" fill="#000">)</text></g>
<text x="884.02" y="153.7" font-size="13.3" font-weight="normal" fill="#000" textLength="33.19" lengthAdjust="spacingAndGlyphs">5/16"</text>
<g transform="translate(879.63,166.1)"><text transform="translate(0,-1.63) scale(1.0594,0.8112)" font-size="13.3" font-weight="normal" fill="#000">(</text><text x="4.69" y="0" font-size="13.3" font-weight="normal" fill="#000" textLength="43.06" lengthAdjust="spacingAndGlyphs">7,5mm</text><text transform="translate(47.76,-1.63) scale(1.0594,0.8112)" font-size="13.3" font-weight="normal" fill="#000">)</text></g>
<line x1="834.9" y1="168.4" x2="938.2" y2="168.4" stroke="#000" stroke-width="1.0" stroke-linecap="butt"/>
<polygon points="855,168.4 845,166.2 845,170.6" fill="#000"/>
<polygon points="865.3,168.4 875.3,166.2 875.3,170.6" fill="#000"/>
<line x1="926" y1="199.9" x2="1022.6" y2="199.9" stroke="#000" stroke-width="1.0" stroke-linecap="butt"/>
<line x1="899" y1="252.4" x2="955" y2="252.4" stroke="#000" stroke-width="1.0" stroke-linecap="butt"/>
<line x1="965.3" y1="252.4" x2="1022.6" y2="252.4" stroke="#000" stroke-width="1.0" stroke-linecap="butt"/>
<line x1="1016.6" y1="199.9" x2="1016.6" y2="326.3" stroke="#000" stroke-width="1.0" stroke-linecap="butt"/>
<polygon points="1016.6,200.1 1014.4,210.1 1018.8,210.1" fill="#000"/>
<polygon points="1016.6,251.9 1014.4,241.9 1018.8,241.9" fill="#000"/>
<line x1="921.6" y1="294.1" x2="965.3" y2="294.1" stroke="#000" stroke-width="1.0" stroke-linecap="butt"/>
<line x1="960" y1="226.1" x2="960" y2="362.8" stroke="#000" stroke-width="1.0" stroke-linecap="butt"/>
<polygon points="960,226.3 957.8,236.3 962.2,236.3" fill="#000"/>
<polygon points="960,293.9 957.8,283.9 962.2,283.9" fill="#000"/>
<g transform="translate(945.2,352.76) rotate(-90)"><text x="0" y="0" font-size="13.3" font-weight="normal" fill="#000" textLength="13.69" lengthAdjust="spacingAndGlyphs">2"</text></g>
<g transform="translate(956.3,357.26) rotate(-90)"><text transform="translate(0,-1.63) scale(1.0462,0.8112)" font-size="13.3" font-weight="normal" fill="#000">(</text><text x="4.63" y="0" font-size="13.3" font-weight="normal" fill="#000" textLength="38.66" lengthAdjust="spacingAndGlyphs">52mm</text><text transform="translate(43.29,-1.63) scale(1.0462,0.8112)" font-size="13.3" font-weight="normal" fill="#000">)</text></g>
<g transform="translate(1003,301.5) rotate(-90)"><text x="0" y="0" font-size="13.3" font-weight="normal" fill="#000" textLength="41.96" lengthAdjust="spacingAndGlyphs">1-9/16"</text></g>
<g transform="translate(1014.4,322.88) rotate(-90)"><text x="0" y="0" font-size="13.3" font-weight="normal" fill="#000" textLength="14.67" lengthAdjust="spacingAndGlyphs">Ø </text><text transform="translate(14.67,-1.63) scale(1.0450,0.8112)" font-size="13.3" font-weight="normal" fill="#000">(</text><text x="19.3" y="0" font-size="13.3" font-weight="normal" fill="#000" textLength="38.61" lengthAdjust="spacingAndGlyphs">40mm</text><text transform="translate(57.92,-1.63) scale(1.0450,0.8112)" font-size="13.3" font-weight="normal" fill="#000">)</text></g>
<line x1="921.6" y1="464.2" x2="998.7" y2="464.2" stroke="#000" stroke-width="1.0" stroke-linecap="butt"/>
<line x1="899" y1="517.1" x2="957" y2="517.1" stroke="#000" stroke-width="1.0" stroke-linecap="butt"/>
<line x1="970" y1="517.1" x2="998.7" y2="517.1" stroke="#000" stroke-width="1.0" stroke-linecap="butt"/>
<line x1="992.9" y1="390" x2="992.9" y2="517.1" stroke="#000" stroke-width="1.0" stroke-linecap="butt"/>
<polygon points="992.9,464.2 990.7,474.2 995.1,474.2" fill="#000"/>
<polygon points="992.9,516.9 990.7,506.9 995.1,506.9" fill="#000"/>
<g transform="translate(979.4,438.84) rotate(-90)"><text x="0" y="0" font-size="13.3" font-weight="normal" fill="#000" textLength="43.73" lengthAdjust="spacingAndGlyphs">1-9/16"</text></g>
<g transform="translate(991.4,459.7) rotate(-90)"><text x="0" y="0" font-size="13.3" font-weight="normal" fill="#000" textLength="15.1" lengthAdjust="spacingAndGlyphs">Ø </text><text transform="translate(15.1,-1.63) scale(1.0757,0.8112)" font-size="13.3" font-weight="normal" fill="#000">(</text><text x="19.87" y="0" font-size="13.3" font-weight="normal" fill="#000" textLength="39.75" lengthAdjust="spacingAndGlyphs">40mm</text><text transform="translate(59.62,-1.63) scale(1.0757,0.8112)" font-size="13.3" font-weight="normal" fill="#000">)</text></g>
<line x1="921.6" y1="490.6" x2="970.8" y2="490.6" stroke="#000" stroke-width="1.0" stroke-linecap="butt"/>
<line x1="921.6" y1="558.6" x2="970.8" y2="558.6" stroke="#000" stroke-width="1.0" stroke-linecap="butt"/>
<line x1="965.1" y1="490.6" x2="965.1" y2="622.4" stroke="#000" stroke-width="1.0" stroke-linecap="butt"/>
<polygon points="965.1,490.8 962.9,500.8 967.3,500.8" fill="#000"/>
<polygon points="965.1,558.4 962.9,548.4 967.3,548.4" fill="#000"/>
<g transform="translate(950.2,612.36) rotate(-90)"><text x="0" y="0" font-size="13.3" font-weight="normal" fill="#000" textLength="13.69" lengthAdjust="spacingAndGlyphs">2"</text></g>
<g transform="translate(961.3,616.86) rotate(-90)"><text transform="translate(0,-1.63) scale(1.0462,0.8112)" font-size="13.3" font-weight="normal" fill="#000">(</text><text x="4.63" y="0" font-size="13.3" font-weight="normal" fill="#000" textLength="38.66" lengthAdjust="spacingAndGlyphs">52mm</text><text transform="translate(43.29,-1.63) scale(1.0462,0.8112)" font-size="13.3" font-weight="normal" fill="#000">)</text></g>
<line x1="921.5" y1="558.6" x2="921.5" y2="596.3" stroke="#000" stroke-width="1.0" stroke-linecap="butt"/>
<line x1="855.2" y1="591.7" x2="921.5" y2="591.7" stroke="#000" stroke-width="1.0" stroke-linecap="butt"/>
<polygon points="855.4,591.7 865.4,589.5 865.4,593.9" fill="#000"/>
<polygon points="921.2,591.7 911.2,589.5 911.2,593.9" fill="#000"/>
<text x="872.84" y="576.7" font-size="13.3" font-weight="normal" fill="#000" textLength="13.81" lengthAdjust="spacingAndGlyphs">2"</text>
<g transform="translate(868.02,588.5)"><text transform="translate(0,-1.63) scale(1.0688,0.8112)" font-size="13.3" font-weight="normal" fill="#000">(</text><text x="4.73" y="0" font-size="13.3" font-weight="normal" fill="#000" textLength="39.5" lengthAdjust="spacingAndGlyphs">50mm</text><text transform="translate(44.23,-1.63) scale(1.0688,0.8112)" font-size="13.3" font-weight="normal" fill="#000">)</text></g>

<g fill="#000">
<path d="M821.2,629.1 L792.6,629.1 C781,629.1 773.6,639 773.6,650.9 C773.6,663 781,672.6 792.6,672.6 L824.2,672.6 L824.2,648.4 L795.2,648.4 L795.2,655.9 L816,655.9 L816,664.4 L796.3,664.4 C788.5,664.4 782.5,658.5 782.5,650.9 C782.5,643.3 788.5,637.3 796.3,637.3 L821.2,637.3 Z"/>
<path d="M829.5,629.1 L867,629.1 C876,629.1 880.5,635 880.5,644 C880.5,653 876,659 869.5,660.7 L881.6,672.7 L869.7,672.7 L857.8,660.7 L841,660.7 L841,652.5 L866,652.5 C870,652.5 872.3,649 872.3,645 C872.3,640.5 869.5,637.3 866,637.3 L837.7,637.3 L837.7,672.7 L829.5,672.7 Z"/>
<path d="M884.2,672.6 L907.6,631.8 Q913.4,626.4 919.2,631.8 L943,672.6 L932.6,672.6 L914,642.1 L895.4,672.6 Z"/>
<path d="M880.1,656.3 C887,654 893,652.2 900.6,652.2 C908,652.2 914,654.8 920.7,654.8 C930,654.8 937,653.5 943.8,652.5 C937,657 930,661.5 920.7,661.5 C912,661.5 906,657.4 899,657.4 C892,657.4 886,657 880.1,656.3 Z" stroke="#fff" stroke-width="0.8"/>
<path d="M946.6,629 L985,629 L985,637.6 L955.1,637.6 L955.1,672.6 L946.6,672.6 Z M957,646.3 L982.8,646.3 L982.8,654.6 L957,654.6 Z"/>
<path d="M987.5,629 L1025.8,629 L1025.8,637.6 L996,637.6 L996,672.6 L987.5,672.6 Z M998.2,646.3 L1023.9,646.3 L1023.9,654.6 L998.2,654.6 Z"/>
</g>
<circle cx="1035.2" cy="632.2" r="4.3" stroke="#000" stroke-width="1.4" fill="none"/>
<text x="1035.2" y="634.4" font-size="6" font-weight="bold" text-anchor="middle">R</text>

<text transform="translate(775.53,690.8) scale(1.452,1)" font-size="7.9" font-weight="bold" stroke="#000" stroke-width="0.35">C</text>
<text transform="translate(790.65,690.8) scale(1.579,1)" font-size="7.9" font-weight="bold" stroke="#000" stroke-width="0.35">U</text>
<text transform="translate(805.06,690.8) scale(1.634,1)" font-size="7.9" font-weight="bold" stroke="#000" stroke-width="0.35">T</text>
<text transform="translate(819.25,690.8) scale(1.677,1)" font-size="7.9" font-weight="bold" stroke="#000" stroke-width="0.35">T</text>
<text transform="translate(832.79,690.8) scale(2.109,1)" font-size="7.9" font-weight="bold" stroke="#000" stroke-width="0.35">I</text>
<text transform="translate(842.04,690.8) scale(1.636,1)" font-size="7.9" font-weight="bold" stroke="#000" stroke-width="0.35">N</text>
<text transform="translate(857.53,690.8) scale(1.463,1)" font-size="7.9" font-weight="bold" stroke="#000" stroke-width="0.35">G</text>
<text transform="translate(880.49,690.8) scale(1.715,1)" font-size="7.9" font-weight="bold" stroke="#000" stroke-width="0.35">E</text>
<text transform="translate(895.25,690.8) scale(1.424,1)" font-size="7.9" font-weight="bold" stroke="#000" stroke-width="0.35">D</text>
<text transform="translate(910.14,690.8) scale(1.426,1)" font-size="7.9" font-weight="bold" stroke="#000" stroke-width="0.35">G</text>
<text transform="translate(923.59,690.8) scale(1.715,1)" font-size="7.9" font-weight="bold" stroke="#000" stroke-width="0.35">E</text>
<text transform="translate(947.96,690.8) scale(1.589,1)" font-size="7.9" font-weight="bold" stroke="#000" stroke-width="0.35">D</text>
<text transform="translate(962.57,690.8) scale(1.579,1)" font-size="7.9" font-weight="bold" stroke="#000" stroke-width="0.35">E</text>
<text transform="translate(977.66,690.8) scale(1.479,1)" font-size="7.9" font-weight="bold" stroke="#000" stroke-width="0.35">S</text>
<text transform="translate(991.3,690.8) scale(2.461,1)" font-size="7.9" font-weight="bold" stroke="#000" stroke-width="0.35">I</text>
<text transform="translate(1000.54,690.8) scale(1.426,1)" font-size="7.9" font-weight="bold" stroke="#000" stroke-width="0.35">G</text>
<text transform="translate(1015.4,690.8) scale(1.507,1)" font-size="7.9" font-weight="bold" stroke="#000" stroke-width="0.35">N</text>
</svg>
</body></html>
